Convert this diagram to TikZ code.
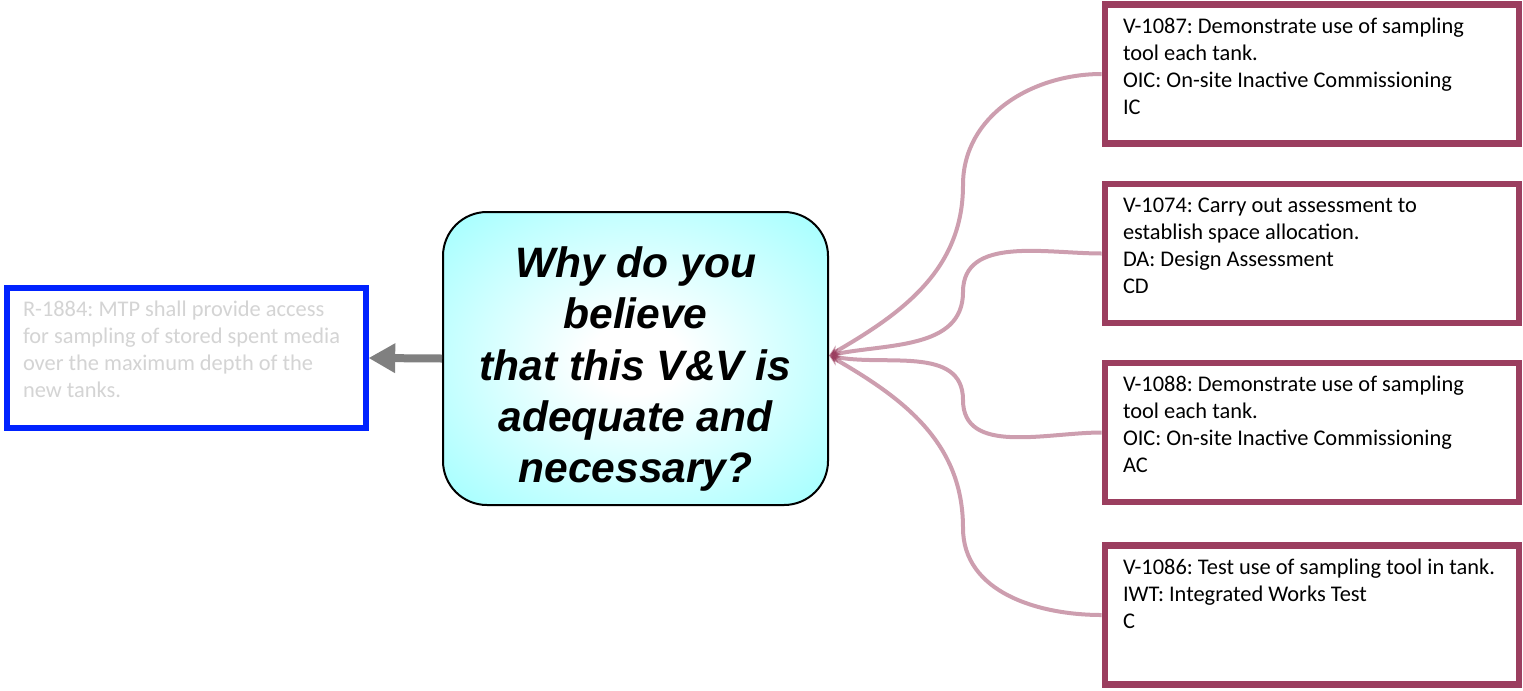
\documentclass[tikz,border=0pt]{standalone}
\usepackage{fontspec}
\setmainfont{Carlito}
\newfontfamily\questionfont{Liberation Sans}
\usetikzlibrary{arrows.meta}
\frenchspacing

\definecolor{vvred}{RGB}{155,62,95}
\definecolor{reqblue}{RGB}{0,34,255}
\definecolor{reqtext}{RGB}{212,212,212}
\definecolor{hubcyan}{RGB}{160,255,255}
\definecolor{arrowgray}{RGB}{128,128,128}

% soft white glow in the middle of the question box
\pgfdeclareradialshading{hubglow}{\pgfpointorigin}{color(0bp)=(white); color(6bp)=(white); color(36bp)=(hubcyan); color(50bp)=(hubcyan)}

% fixed-size text blocks for the boxes
\newcommand{\vvtext}[1]{\parbox[t][89.25pt][t]{283.5pt}{\fontsize{16.8pt}{20.25pt}\selectfont\raggedright\frenchspacing\strut #1}}
\newcommand{\reqtext}[1]{\parbox[t][90pt][t]{245.25pt}{\fontsize{16.8pt}{20.25pt}\selectfont\raggedright\frenchspacing\strut #1}}

\tikzset{
  vvbox/.style={draw=vvred, line width=5pt, fill=white, inner xsep=13.5pt, inner ysep=7.5pt},
  reqbox/.style={draw=reqblue, line width=3.8pt, fill=white, inner xsep=12pt, inner ysep=7.5pt, text=reqtext},
  hubbox/.style={draw=black, line width=1.5pt, rounded corners=33pt, shading=hubglow,
    minimum width=288.75pt, minimum height=219.75pt},
  question/.style={align=center, inner sep=0pt,
    font=\questionfont\bfseries\itshape\fontsize{31.9pt}{38.6pt}\selectfont},
  link/.style={draw=vvred, draw opacity=0.5, line width=3pt,
    -{Stealth[length=8pt,width=8pt]}},
  backarrow/.style={draw=arrowgray, line width=6pt,
    -{Triangle[length=20pt,width=21pt]}}
}

\begin{document}
\begin{tikzpicture}[x=0.75pt,y=0.75pt]
\useasboundingbox (0,0) rectangle (1523,-690);

% central question
\node[hubbox] (hub) at (635.5,-358.5) {};
\node[question] (q) at (635.5,-369) {Why do you\\believe\\that this V\&V is\\adequate and\\necessary?};

% requirement on the left
\node[reqbox] (req) at (186.5,-358) {\reqtext{R-1884: MTP shall provide access\\for sampling of stored spent media\\over the maximum depth of the\\new tanks.}};

% verification activities on the right
\node[vvbox] (b1) at (1312,-74) {\vvtext{V-1087: Demonstrate use of sampling\\tool each tank.\\OIC: On-site Inactive Commissioning\\IC}};
\node[vvbox] (b2) at (1312,-253.5) {\vvtext{V-1074: Carry out assessment to\\establish space allocation.\\DA: Design Assessment\\CD}};
\node[vvbox] (b3) at (1312,-432.5) {\vvtext{V-1088: Demonstrate use of sampling\\tool each tank.\\OIC: On-site Inactive Commissioning\\AC}};
\node[vvbox] (b4) at (1312,-615) {\vvtext{V-1086: Test use of sampling tool in tank.\\IWT: Integrated Works Test\\C}};

\coordinate (hubin) at ([yshift=2.25pt]hub.east);

% connectors
\draw[backarrow] (hub.west) -- (req.east);
\draw[link] (b1.west) to[out=180,in=90] (963,-185) to[out=-90,in=30] (hubin);
\draw[link] (b2.west) to[out=180,in=90] (963,-292) to[out=-90,in=12] (hubin);
\draw[link] (b3.west) to[out=180,in=-90] (963,-400) to[out=90,in=-12] (hubin);
\draw[link] (b4.west) to[out=180,in=-90] (963,-528) to[out=90,in=-30] (hubin);
\end{tikzpicture}
\end{document}
